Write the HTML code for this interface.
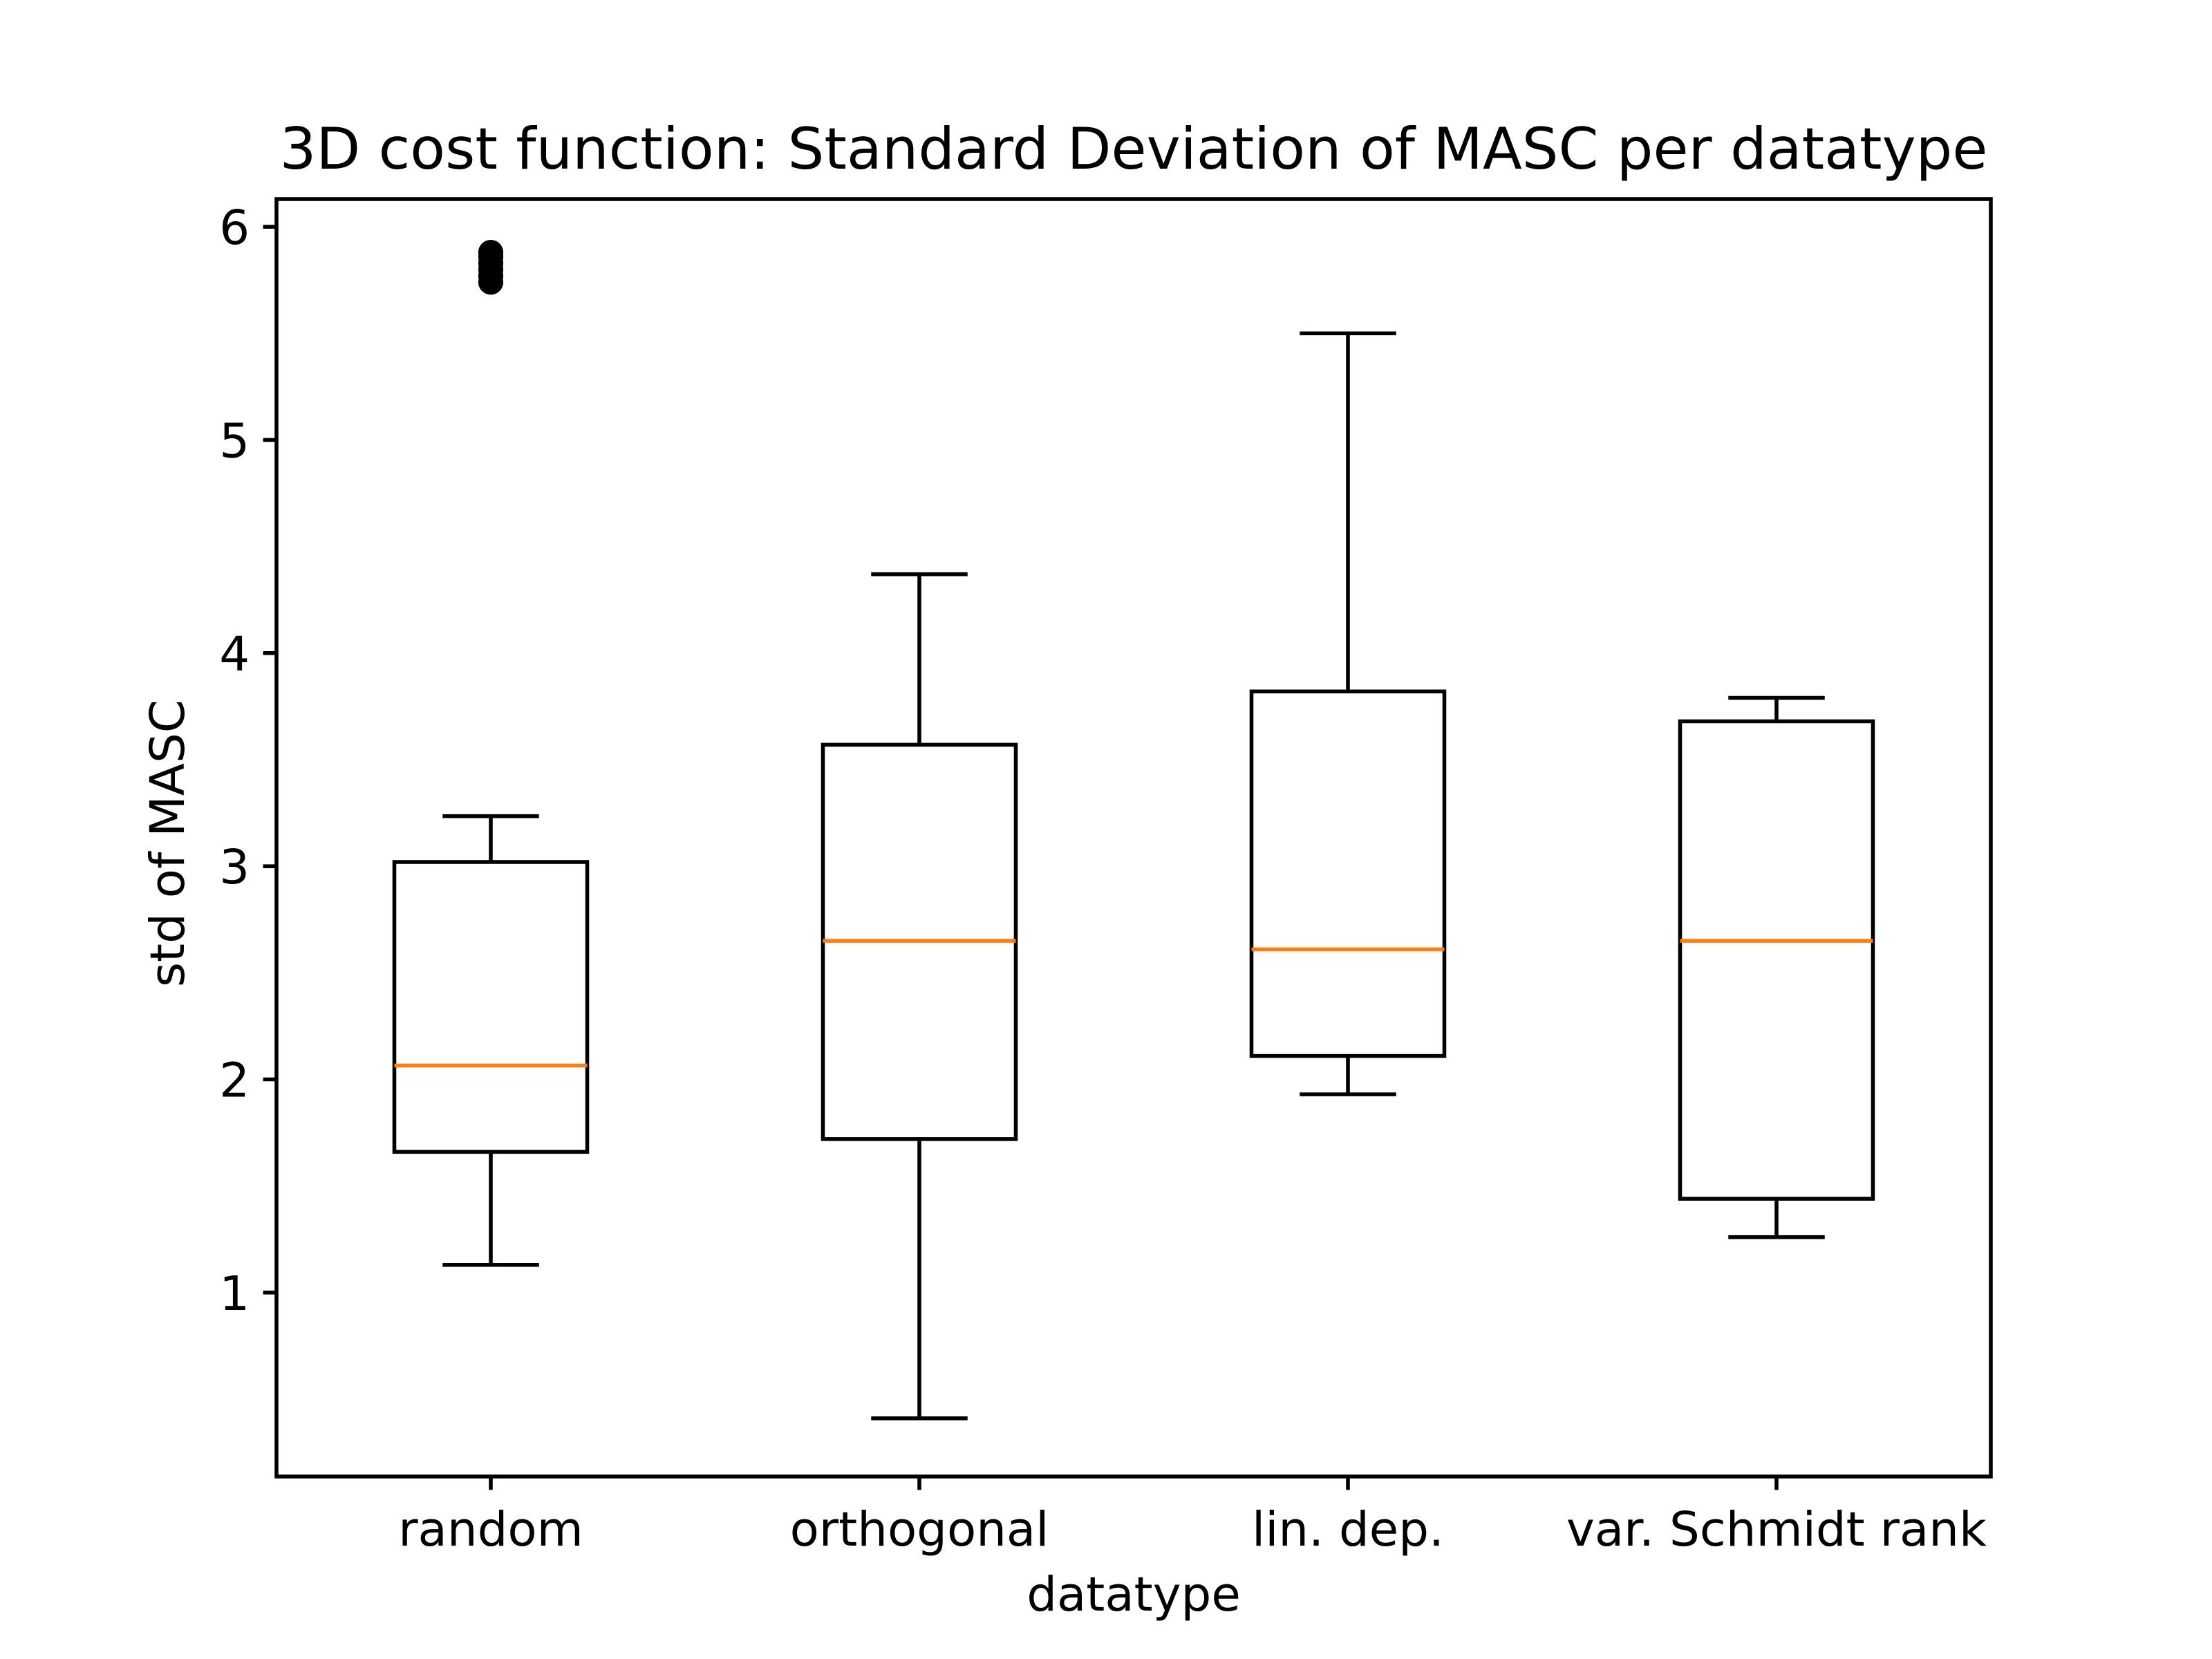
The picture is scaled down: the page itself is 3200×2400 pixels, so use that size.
<!DOCTYPE html>
<html><head><meta charset="utf-8"><style>
html,body{margin:0;padding:0;background:#fff}
svg{display:block}
text{font-family:"DejaVu Sans","Liberation Sans",sans-serif;fill:#000}
</style></head><body>
<svg id="chart" width="3200" height="2400" viewBox="0 0 3200 2400">
<rect width="3200" height="2400" fill="#fff"/>
<text x="1640" y="244" font-size="83" text-anchor="middle">3D cost function: Standard Deviation of MASC per datatype</text>
<g id="marks"></g>
<g id="axes"></g>
<text x="1640" y="2330" font-size="69" text-anchor="middle">datatype</text>
<text transform="translate(266,1220) rotate(-90)" font-size="69" text-anchor="middle">std of MASC</text>
</svg>
<script>
const categories = ["random", "orthogonal", "lin. dep.", "var. Schmidt rank"];
const whiskerLow = [1.13, 0.41, 1.93, 1.26];
const q1 = [1.66, 1.72, 2.11, 1.44];
const median = [2.065, 2.65, 2.61, 2.65];
const q3 = [3.02, 3.57, 3.82, 3.68];
const whiskerHigh = [3.235, 4.37, 5.50, 3.79];
const outliersRandom = [5.74, 5.77, 5.80, 5.83, 5.86, 5.88];
const yTicks = [1, 2, 3, 4, 5, 6];

const L = 400, R = 2880, T = 288, B = 2136;
const yMin = 0.137, yMax = 6.13;
const NS = "http://www.w3.org/2000/svg";
const lw = 5.56;
function xs(i) { return L + (i + 1 - 0.5) / 4 * (R - L); }
function ys(v) { return B - (v - yMin) / (yMax - yMin) * (B - T); }
function mk(tag, attrs, parent) {
  const e = document.createElementNS(NS, tag);
  for (const k in attrs) e.setAttribute(k, attrs[k]);
  parent.appendChild(e);
  return e;
}
const marks = document.getElementById('marks');
const axes = document.getElementById('axes');
const boxW = 0.45 / 4 * (R - L);
const capW = boxW / 2;
categories.forEach((c, i) => {
  const x = xs(i);
  const g = mk('g', {}, marks);
  
  
  const st = {stroke: '#000', 'stroke-width': lw, fill: 'none'};
  const lowWh = mk('line', Object.assign({x1: x, x2: x, y1: ys(q1[i]), y2: ys(whiskerLow[i])}, st), g);
  
  
  const hiWh = mk('line', Object.assign({x1: x, x2: x, y1: ys(q3[i]), y2: ys(whiskerHigh[i])}, st), g);
  
  
  const lc = mk('line', Object.assign({x1: x - capW / 2, x2: x + capW / 2, y1: ys(whiskerLow[i]), y2: ys(whiskerLow[i])}, st), g);
  
  
  const hc = mk('line', Object.assign({x1: x - capW / 2, x2: x + capW / 2, y1: ys(whiskerHigh[i]), y2: ys(whiskerHigh[i])}, st), g);
  
  
  const box = mk('rect', Object.assign({x: x - boxW / 2, y: ys(q3[i]), width: boxW, height: ys(q1[i]) - ys(q3[i])}, st), g);
  
  
  const med = mk('line', {x1: x - boxW / 2, x2: x + boxW / 2, y1: ys(median[i]), y2: ys(median[i]), stroke: '#ff7f0e', 'stroke-width': lw}, g);
  
  
});
outliersRandom.forEach(v => {
  const c = mk('circle', {cx: xs(0), cy: ys(v), r: 16.7, fill: '#000', stroke: '#000', 'stroke-width': 2.8}, marks);
  
  
});
const frame = mk('rect', {x: L, y: T, width: R - L, height: B - T, fill: 'none', stroke: '#000', 'stroke-width': lw, 'stroke-linejoin': 'miter'}, axes);


yTicks.forEach(v => {
  const y = ys(v);
  const t = mk('line', {x1: L - 19.4, x2: L, y1: y, y2: y, stroke: '#000', 'stroke-width': lw}, axes);
  
  
  const tx = mk('text', {x: L - 38.9, y: y + 25, 'font-size': 69, 'text-anchor': 'end'}, axes);
  tx.textContent = String(v);
  
  
});
categories.forEach((c, i) => {
  const x = xs(i);
  const t = mk('line', {x1: x, x2: x, y1: B, y2: B + 19.4, stroke: '#000', 'stroke-width': lw}, axes);
  
  
  const tx = mk('text', {x: x, y: 2236, 'font-size': 69, 'text-anchor': 'middle'}, axes);
  tx.textContent = c;
  
  
});
</script>
</body></html>
